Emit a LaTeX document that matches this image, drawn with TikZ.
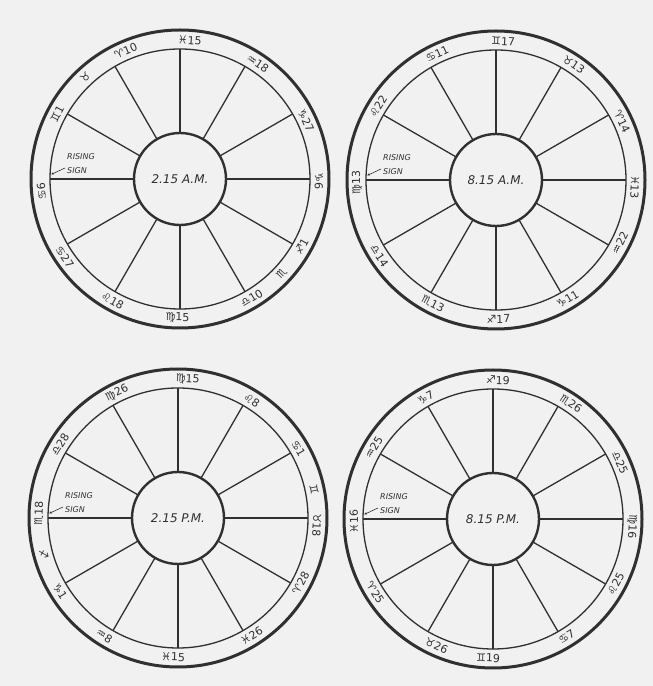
\documentclass[tikz,border=0pt]{standalone}
\usepackage{fontspec}
\setmainfont{DejaVu Sans}
\usepackage{tikz}
\usetikzlibrary{arrows.meta}
\definecolor{inkgray}{RGB}{48,48,48}
\definecolor{papergray}{RGB}{241,241,241}

\tikzset{
  rim/.style={draw=inkgray, line width=3pt},
  band/.style={draw=inkgray, line width=1.3pt},
  hub/.style={circle, draw=inkgray, line width=2.4pt, minimum size=92pt, inner sep=0pt,
    font=\itshape\fontsize{12}{12}\selectfont, text=inkgray},
  spoke/.style={draw=inkgray, line width=1.3pt},
  axisspoke/.style={draw=inkgray, line width=2.3pt},
  cusp/.style={font=\fontsize{11}{11}\selectfont, text=inkgray, inner sep=0pt},
  risetext/.style={font=\itshape\fontsize{8}{14}\selectfont, text=inkgray,
    align=left, inner sep=0pt, anchor=west},
}

% one wheel: name, centre, hour, cusp list angle/sign
\newcommand{\horowheel}[4]{%
  \coordinate (#1) at #2;
  \draw[rim] (#1) circle (149pt);
  \draw[band] (#1) circle (130pt);
  \node[hub] (#1-hub) at (#1) {#3};
  \foreach \a in {30,60,120,150,210,240,300,330}
    \draw[spoke] (#1) ++(\a:46pt) -- ++(\a:84pt);
  \foreach \a in {0,90,180,270}
    \draw[axisspoke] (#1) ++(\a:46pt) -- ++(\a:84pt);
  \foreach \a/\s in {#4} {
    \pgfmathsetmacro{\rot}{(\a>=190 && \a<=350) ? \a+90 : \a-90}
    \path (#1) ++(\a:139pt) node[cusp, rotate=\rot] (#1-\a) {\s};
  }
  % rising sign pointer
  \path (#1) ++(-113pt,15pt) node[risetext] (#1-rise) {RISING\\SIGN};
  \path (#1) ++(178:129pt) coordinate (#1-asc);
  \draw[inkgray, line width=0.6pt, -{Stealth[length=3pt, width=2.5pt]}]
    ([xshift=-2pt, yshift=-4pt]#1-rise.west) -- (#1-asc);
}

\begin{document}
\begin{tikzpicture}[x=1pt, y=1pt]
  % Paper
  \fill[papergray] (0,0) rectangle (653,686);

  % Top row
  \horowheel{c1}{(180,507)}{2.15 A.M.}{86/♓15, 56/♒18, 25/♑27, 359/♑6, 331/♐1, 317/♏, 301/♎10,
    269/♍15, 241/♌18, 214/♋27, 185/♋6, 152/♊1, 133/♉, 113/♈10}
  \horowheel{c2}{(496,506)}{8.15 A.M.}{87/♊17, 56/♉13, 25/♈14, 357/♓13, 333/♒22, 301/♑11,
    271/♐17, 243/♏13, 213/♎14, 181/♍13, 148/♌22, 115/♋11}

  % Bottom row
  \horowheel{c3}{(178,168)}{2.15 P.M.}{86/♍15, 58/♌8, 30/♋1, 12/♊, 357/♉18, 332/♈28, 302/♓26,
    268/♓15, 238/♒8, 212/♑1, 195/♐, 178/♏18, 148/♎28, 116/♍26}
  \horowheel{c4}{(493,167)}{8.15 P.M.}{88/♐19, 56/♏26, 24/♎25, 357/♍16, 332/♌25, 302/♋7,
    268/♊19, 246/♉26, 212/♈25, 181/♓16, 149/♒25, 119/♑7}
\end{tikzpicture}
\end{document}
